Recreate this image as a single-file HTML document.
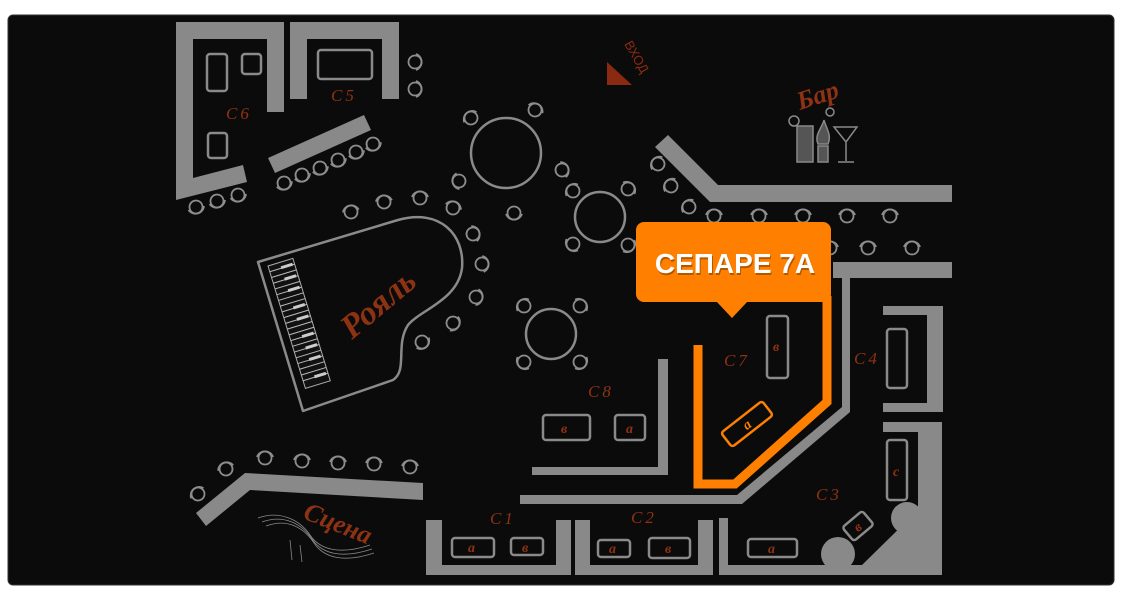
<!DOCTYPE html>
<html><head><meta charset="utf-8"><style>
html,body{margin:0;padding:0;background:#fff;width:1122px;height:601px;overflow:hidden}
svg{display:block}
.w{fill:#898989}
.t{fill:none;stroke:#8a8a8a;stroke-width:2.5}
.l{font-family:"Liberation Serif",serif;font-style:italic;fill:#8e3214;font-size:17px;letter-spacing:3px}
.s{font-family:"Liberation Serif",serif;font-style:italic;font-weight:bold;fill:#8e3214;font-size:14px}
</style></head><body>
<svg width="1122" height="601" viewBox="0 0 1122 601" xmlns="http://www.w3.org/2000/svg">
<defs>
<g id="ch"><circle r="6.5" fill="none" stroke="#8d8d8d" stroke-width="1.8"/><path d="M-8,-1 A8.5,8.5 0 0 1 8,-1" fill="none" stroke="#8d8d8d" stroke-width="1.8"/></g>
</defs>
<rect x="8" y="15" width="1106" height="570" rx="5" fill="#0b0b0b" stroke="#333" stroke-width="1"/>

<polygon class="w" points="176,22 284,22 284,112 267,112 267,39 193,39 193,178 243,165 247,182 176,200"/>
<rect class="t" x="207" y="54" width="20" height="37" rx="3"/>
<rect class="t" x="242" y="54" width="19" height="20" rx="3"/>
<rect class="t" x="208" y="133" width="19" height="25" rx="3"/>
<text class="l" x="226" y="119">C6</text>
<polygon class="w" points="290,22 399,22 399,99 382,99 382,39 307,39 307,99 290,99"/>
<rect class="t" x="318" y="50" width="54" height="29" rx="3"/>
<text class="l" x="331" y="101">C5</text>
<use href="#ch" transform="translate(415,62) rotate(90)"/>
<use href="#ch" transform="translate(415,89) rotate(90)"/>
<polygon class="w" points="268,158 364,115 371,130 275,173"/>
<use href="#ch" transform="translate(284,183) rotate(160)"/>
<use href="#ch" transform="translate(302,175) rotate(160)"/>
<use href="#ch" transform="translate(320,168) rotate(160)"/>
<use href="#ch" transform="translate(338,160) rotate(160)"/>
<use href="#ch" transform="translate(356,152) rotate(160)"/>
<use href="#ch" transform="translate(373,144) rotate(160)"/>
<use href="#ch" transform="translate(196,207) rotate(165)"/>
<use href="#ch" transform="translate(217,201) rotate(165)"/>
<use href="#ch" transform="translate(238,195) rotate(165)"/>

<circle class="t" cx="506" cy="153" r="35" stroke-width="2"/>
<use href="#ch" transform="translate(471,118) rotate(-40)"/>
<use href="#ch" transform="translate(535,110) rotate(30)"/>
<use href="#ch" transform="translate(459,181) rotate(-100)"/>
<use href="#ch" transform="translate(514,213) rotate(180)"/>
<use href="#ch" transform="translate(562,170) rotate(70)"/>
<circle class="t" cx="600" cy="217" r="25" stroke-width="2"/>
<use href="#ch" transform="translate(573,191) rotate(-45)"/>
<use href="#ch" transform="translate(628,189) rotate(45)"/>
<use href="#ch" transform="translate(573,244) rotate(-135)"/>
<use href="#ch" transform="translate(628,245) rotate(135)"/>
<circle class="t" cx="551" cy="334" r="25" stroke-width="2"/>
<use href="#ch" transform="translate(524,306) rotate(-45)"/>
<use href="#ch" transform="translate(580,306) rotate(45)"/>
<use href="#ch" transform="translate(524,362) rotate(-135)"/>
<use href="#ch" transform="translate(580,362) rotate(135)"/>

<path d="M258,262 L398,220 C440,208 465,235 462,268 C458,300 420,310 408,325 C395,345 408,370 393,380 L303,411 Z" fill="none" stroke="#8a8a8a" stroke-width="2.5" stroke-linejoin="round"/>
<g transform="translate(268,266) rotate(-17)">
<rect x="0" y="0" width="26" height="128" fill="#111" stroke="#aaa" stroke-width="1"/>
<g stroke="#bbb" stroke-width="1">
<line x1="0" y1="6" x2="26" y2="6"/><line x1="0" y1="12" x2="26" y2="12"/><line x1="0" y1="18" x2="26" y2="18"/><line x1="0" y1="24" x2="26" y2="24"/><line x1="0" y1="30" x2="26" y2="30"/><line x1="0" y1="36" x2="26" y2="36"/><line x1="0" y1="42" x2="26" y2="42"/><line x1="0" y1="48" x2="26" y2="48"/><line x1="0" y1="54" x2="26" y2="54"/><line x1="0" y1="60" x2="26" y2="60"/><line x1="0" y1="66" x2="26" y2="66"/><line x1="0" y1="72" x2="26" y2="72"/><line x1="0" y1="78" x2="26" y2="78"/><line x1="0" y1="84" x2="26" y2="84"/><line x1="0" y1="90" x2="26" y2="90"/><line x1="0" y1="96" x2="26" y2="96"/><line x1="0" y1="102" x2="26" y2="102"/><line x1="0" y1="108" x2="26" y2="108"/><line x1="0" y1="114" x2="26" y2="114"/><line x1="0" y1="120" x2="26" y2="120"/>
</g>
<g fill="#ccc"><rect x="12" y="4" width="12" height="3"/><rect x="12" y="16" width="12" height="3"/><rect x="12" y="28" width="12" height="3"/><rect x="12" y="46" width="12" height="3"/><rect x="12" y="58" width="12" height="3"/><rect x="12" y="76" width="12" height="3"/><rect x="12" y="88" width="12" height="3"/><rect x="12" y="100" width="12" height="3"/><rect x="12" y="118" width="12" height="3"/></g>
</g>
<text font-family="Liberation Serif,serif" font-style="italic" font-weight="bold" fill="#8e3214" font-size="34" transform="translate(352,340) rotate(-40)">Рояль</text>
<use href="#ch" transform="translate(351,212) rotate(-10)"/>
<use href="#ch" transform="translate(384,202) rotate(-5)"/>
<use href="#ch" transform="translate(420,198) rotate(0)"/>
<use href="#ch" transform="translate(453,208) rotate(20)"/>
<use href="#ch" transform="translate(473,234) rotate(70)"/>
<use href="#ch" transform="translate(482,264) rotate(85)"/>
<use href="#ch" transform="translate(476,297) rotate(100)"/>
<use href="#ch" transform="translate(453,323) rotate(120)"/>
<use href="#ch" transform="translate(422,342) rotate(140)"/>

<polygon class="w" points="196,513 245,473 423,483 423,500 250,490 206,526"/>
<use href="#ch" transform="translate(198,494) rotate(-40)"/>
<use href="#ch" transform="translate(226,469) rotate(-20)"/>
<use href="#ch" transform="translate(265,458)"/>
<use href="#ch" transform="translate(302,461)"/>
<use href="#ch" transform="translate(338,463)"/>
<use href="#ch" transform="translate(374,464)"/>
<use href="#ch" transform="translate(410,467)"/>
<g stroke="#888" stroke-width="0.8" fill="none">
<path d="M258,518 C280,510 300,520 310,535 C320,550 340,555 370,545"/>
<path d="M262,522 C284,514 302,524 312,539 C322,554 342,559 372,549"/>
<path d="M266,526 C288,518 304,528 314,543 C324,558 344,563 374,553"/>
<path d="M290,540 L292,560 M300,545 L302,562"/>
</g>
<text font-family="Liberation Serif,serif" font-style="italic" font-weight="bold" fill="#8e3214" font-size="26" transform="translate(302,518) rotate(22)">Сцена</text>

<polygon points="607,62 607,85 632,85" fill="#8a2a10"/>
<text font-family="Liberation Sans,sans-serif" font-size="13" fill="#8a2a10" transform="translate(624,44) rotate(60)">ВХОД</text>

<text font-family="Liberation Serif,serif" font-style="italic" font-weight="bold" fill="#8e3214" font-size="26" transform="translate(800,110) rotate(-18)">Бар</text>
<g fill="none" stroke="#8a8a8a" stroke-width="1.5">
<rect x="797" y="126" width="16" height="36" fill="#555"/>
<rect x="818" y="146" width="10" height="16" fill="#555"/>
<path d="M818,144 C814,135 822,128 824,120 C826,128 832,135 828,144 Z" fill="#555"/>
<path d="M834,127 L857,127 L846,142 Z M846,142 L846,161 M838,162 L854,162"/>
<circle cx="794" cy="121" r="5"/><circle cx="830" cy="112" r="4"/>
</g>

<polygon class="w" points="655,147 668,135 718,185 952,185 952,202 710,202"/>
<use href="#ch" transform="translate(658,164) rotate(-50)"/>
<use href="#ch" transform="translate(671,186) rotate(-50)"/>
<use href="#ch" transform="translate(689,207) rotate(-50)"/>
<use href="#ch" transform="translate(714,216)"/>
<use href="#ch" transform="translate(759,216)"/>
<use href="#ch" transform="translate(803,216)"/>
<use href="#ch" transform="translate(847,216)"/>
<use href="#ch" transform="translate(890,216)"/>
<use href="#ch" transform="translate(830,248)"/>
<use href="#ch" transform="translate(868,248)"/>
<use href="#ch" transform="translate(912,248)"/>

<polygon class="w" points="833,262 952,262 952,278 850,278 850,412 742,504 520,504 520,495 737,495 842,407 842,278 833,278"/>

<polygon class="w" points="658,359 668,359 668,475 532,475 532,467 658,467"/>
<rect class="t" x="543" y="415" width="47" height="25" rx="3"/>
<rect class="t" x="615" y="415" width="30" height="25" rx="3"/>
<text class="s" x="561" y="433">в</text>
<text class="s" x="626" y="433">а</text>
<text class="l" x="588" y="397">C8</text>

<path d="M698,345 L698,484 L735,484 L827,402 L827,296" fill="none" stroke="#ff7f00" stroke-width="9"/>
<rect class="t" x="767" y="316" width="21" height="62" rx="3"/>
<text class="s" x="773" y="351">в</text>
<g transform="translate(747,424) rotate(-38)">
<rect x="-26" y="-9" width="52" height="18" rx="3" fill="none" stroke="#ff7f00" stroke-width="2.5"/>
<text class="s" x="-4" y="5" style="fill:#ff7f00">а</text>
</g>
<text class="l" x="724" y="366">C7</text>

<polygon class="w" points="883,306 943,306 943,412 883,412 883,403 927,403 927,315 883,315"/>
<rect class="t" x="887" y="329" width="20" height="59" rx="3"/>
<text class="l" x="854" y="364">C4</text>

<polygon class="w" points="719,518 728,518 728,565 862,565 918,510 918,432 883,432 883,422 942,422 942,575 719,575"/>
<circle class="w" cx="838" cy="554" r="17"/>
<circle class="w" cx="907" cy="518" r="16"/>
<rect class="t" x="887" y="440" width="20" height="60" rx="3"/>
<text class="s" x="893" y="476">с</text>
<g transform="translate(858,526) rotate(-40)">
<rect x="-13" y="-9" width="26" height="18" rx="3" fill="none" stroke="#8a8a8a" stroke-width="2.5"/>
<text class="s" x="-4" y="5">в</text>
</g>
<text class="l" x="816" y="500">C3</text>
<rect class="t" x="748" y="539" width="49" height="18" rx="3"/>
<text class="s" x="768" y="553">а</text>

<polygon class="w" points="575,520 590,520 590,565 698,565 698,520 713,520 713,575 575,575"/>
<rect class="t" x="598" y="540" width="32" height="17" rx="3"/>
<rect class="t" x="649" y="538" width="41" height="20" rx="3"/>
<text class="s" x="609" y="553">а</text>
<text class="s" x="665" y="553">в</text>
<text class="l" x="631" y="523">C2</text>

<polygon class="w" points="426,520 442,520 442,565 556,565 556,520 571,520 571,575 426,575"/>
<rect class="t" x="452" y="538" width="42" height="19" rx="3"/>
<rect class="t" x="511" y="538" width="32" height="17" rx="3"/>
<text class="s" x="468" y="552">а</text>
<text class="s" x="522" y="552">в</text>
<text class="l" x="490" y="524">C1</text>

<rect x="636" y="222" width="195" height="80" rx="8" fill="#ff7f00"/>
<polygon points="716,301 748,301 732,318" fill="#ff7f00"/>
<text x="735" y="273" text-anchor="middle" font-family="Liberation Sans,sans-serif" font-weight="bold" font-size="28" fill="#000" opacity="0.3" transform="translate(1,2)">СЕПАРЕ 7А</text>
<text x="735" y="273" text-anchor="middle" font-family="Liberation Sans,sans-serif" font-weight="bold" font-size="28" fill="#fff">СЕПАРЕ 7А</text>
</svg>
</body></html>
